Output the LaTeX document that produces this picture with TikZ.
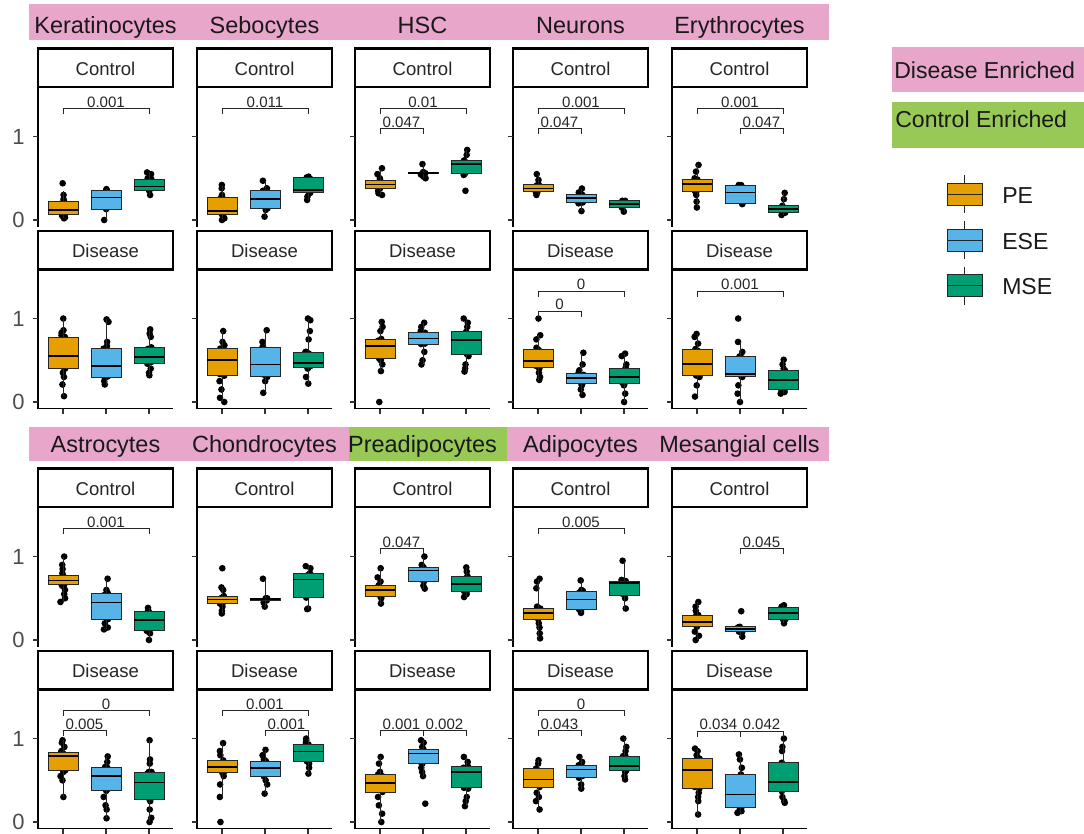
\documentclass[tikz,border=0pt]{standalone}
\usepackage{fontspec}
\setmainfont{Liberation Sans}
\definecolor{pe}{HTML}{E69F00}
\definecolor{ese}{HTML}{56B4E9}
\definecolor{mse}{HTML}{009E73}
\definecolor{pinkbg}{HTML}{E8A6CB}
\definecolor{greenbg}{HTML}{98C956}
\definecolor{ticklab}{HTML}{4D4D4D}
\newcount\ncnt
\tikzset{
  whisk/.style={line width=0.6pt,black!85},
  boxst/.style={line width=0.6pt,draw=black!85},
  medst/.style={line width=1.3pt,black},
  brst/.style={line width=0.6pt,black!85},
  pv/.style={anchor=base,inner sep=0pt,yshift=0.8pt,font=\fontsize{11.3pt}{12pt}\selectfont,text=black!85},
  stripbox/.style={line width=1.8pt,draw=black,fill=white},
  striptext/.style={anchor=base,inner sep=0pt,font=\fontsize{13.9pt}{15pt}\selectfont,text=black!85},
  titletext/.style={anchor=base,inner sep=0pt,font=\fontsize{17.6pt}{19pt}\selectfont,text=black!90},
  axisline/.style={line width=1.4pt,black},
  tickline/.style={line width=1.1pt,black!80},
  ylab/.style={anchor=east,inner sep=0pt,font=\fontsize{16.5pt}{18pt}\selectfont,text=ticklab},
  legtext/.style={anchor=base west,inner sep=0pt,font=\fontsize{17.3pt}{19pt}\selectfont,text=black!90},
}
% box: group, colour, lo, q1, med, q3, hi, points (points drawn first, box on top)
\newcommand\bx[8]{%
  \foreach \p in {#8,#4,#6,#4+0.02,#6-0.02}{\pgfmathsetmacro\jx{#1+0.06*rand}\fill (\jx,\p) circle[radius=2.5pt];}%
  \draw[whisk] (#1,#3) -- (#1,#4) (#1,#6) -- (#1,#7);
  \filldraw[boxst,fill=#2] (#1-0.35,#4) rectangle (#1+0.35,#6);
  \draw[medst] (#1-0.35,#5) -- (#1+0.35,#5);
}
% bracket: g1, g2, y, label
\newcommand\brk[4]{%
  \draw[brst] (#1,#3-0.07) -- (#1,#3) -- (#2,#3) -- (#2,#3-0.07);
  \global\advance\ncnt by 1
  \node[pv] (n\the\ncnt) at ({(#1+#2)/2},#3) {#4};%
}
% panel frame: L, strip top, y0, label, disease(1)/control(0)
\newcommand\frm[5]{%
  \draw[axisline] (#1,#2+38.5) -- (#1,#3+6.5);
  \draw[tickline] (#1-5,#3) -- (#1,#3) (#1-5,#3-83.5) -- (#1,#3-83.5);
  \ifnum#5=1
    \draw[axisline] (#1-0.7,#3+6.5) -- (#1+135,#3+6.5);
    \draw[tickline] (#1+25,#3+6.5) -- (#1+25,#3+11.5) (#1+68,#3+6.5) -- (#1+68,#3+11.5) (#1+111,#3+6.5) -- (#1+111,#3+11.5);
  \fi
  \draw[stripbox] (#1,#2) rectangle (#1+135,#2+38.5);
  \global\advance\ncnt by 1
  \node[striptext] (n\the\ncnt) at (#1+67.5,#2+26.5) {#4};%
}
\newenvironment{pdat}[2]{\begin{scope}[shift={(#1-18,#2)},x=32.25pt,y=62.6pt]}{\end{scope}}
\newcommand\ttl[3]{\global\advance\ncnt by 1 \node[titletext] (n\the\ncnt) at (#1+67.5,#2) {#3};}
\begin{document}
\begin{tikzpicture}[x=0.75pt,y=-0.75pt]
\pgfmathsetseed{7}
\useasboundingbox (0,0) rectangle (1084,833);
% title strips
\fill[pinkbg] (29,4) rectangle (829,40);
\fill[pinkbg] (29,427) rectangle (349,461);
\fill[greenbg] (349,427) rectangle (507,461);
\fill[pinkbg] (507,427) rectangle (829,461);
\ttl{38}{33.5}{Keratinocytes}
\ttl{197}{33.5}{Sebocytes}
\ttl{355}{33.5}{HSC}
\ttl{513}{33.5}{Neurons}
\ttl{672}{33.5}{Erythrocytes}
\ttl{38}{452}{Astrocytes}
\ttl{197}{452}{Chondrocytes}
\ttl{355}{452}{Preadipocytes}
\ttl{513}{452}{Adipocytes}
\ttl{672}{452}{Mesangial cells}
% y tick labels
\node[ylab] (yl1) at (25,220) {0};
\node[ylab] (yl2) at (25,136.5) {1};
\node[ylab] (yl3) at (25,402) {0};
\node[ylab] (yl4) at (25,318.5) {1};
\node[ylab] (yl5) at (25,640) {0};
\node[ylab] (yl6) at (25,556.5) {1};
\node[ylab] (yl7) at (25,822) {0};
\node[ylab] (yl8) at (25,738.5) {1};
% frames
\foreach \L in {38,197,355,513,672}{
  \frm{\L}{48.5}{220}{Control}{0}
  \frm{\L}{231}{402}{Disease}{1}
  \frm{\L}{468.5}{640}{Control}{0}
  \frm{\L}{651}{822}{Disease}{1}
}
% ===== top row, control =====
\begin{pdat}{38}{220}
\bx{1}{pe}{0.02}{0.068}{0.12}{0.22}{0.35}{0.44,0.3,0.25,0.2,0.15,0.12,0.1,0.08,0.05,0.03,0.02}
\bx{2}{ese}{0.0}{0.13}{0.27}{0.357}{0.37}{0.37,0.36,0.33,0.15,0.0}
\bx{3}{mse}{0.29}{0.35}{0.40}{0.49}{0.57}{0.57,0.55,0.5,0.45,0.38,0.3}
\brk{1}{3}{1.34}{0.001}
\end{pdat}
\begin{pdat}{197}{220}
\bx{1}{pe}{0}{0.07}{0.11}{0.27}{0.42}{0.42,0.38,0.3,0.25,0.15,0.1,0.05,0.02,0.0}
\bx{2}{ese}{0.04}{0.14}{0.25}{0.35}{0.47}{0.47,0.38,0.3,0.2,0.12,0.04}
\bx{3}{mse}{0.24}{0.325}{0.36}{0.51}{0.52}{0.52,0.5,0.33,0.28,0.24}
\brk{1}{3}{1.34}{0.011}
\end{pdat}
\begin{pdat}{355}{220}
\bx{1}{pe}{0.3}{0.377}{0.425}{0.476}{0.6}{0.62,0.55,0.5,0.45,0.42,0.4,0.38,0.35,0.32,0.3}
\bx{2}{ese}{0.5}{0.555}{0.56}{0.565}{0.67}{0.67,0.56,0.52,0.5}
\bx{3}{mse}{0.52}{0.563}{0.675}{0.714}{0.84}{0.84,0.78,0.7,0.6,0.54,0.35}
\brk{1}{3}{1.34}{0.01}
\brk{1}{2}{1.10}{0.047}
\end{pdat}
\begin{pdat}{513}{220}
\bx{1}{pe}{0.3}{0.337}{0.377}{0.43}{0.55}{0.55,0.48,0.42,0.4,0.38,0.36,0.33,0.3}
\bx{2}{ese}{0.107}{0.21}{0.265}{0.31}{0.377}{0.377,0.33,0.3,0.2,0.107}
\bx{3}{mse}{0.1}{0.147}{0.194}{0.23}{0.23}{0.23,0.2,0.15,0.1}
\brk{1}{3}{1.34}{0.001}
\brk{1}{2}{1.10}{0.047}
\end{pdat}
\begin{pdat}{672}{220}
\bx{1}{pe}{0.15}{0.337}{0.43}{0.485}{0.66}{0.66,0.58,0.5,0.45,0.4,0.35,0.3,0.22,0.15}
\bx{2}{ese}{0.2}{0.2}{0.33}{0.417}{0.42}{0.42,0.4,0.2,0.19}
\bx{3}{mse}{0.06}{0.087}{0.13}{0.17}{0.325}{0.325,0.25,0.15,0.1,0.06}
\brk{1}{3}{1.34}{0.001}
\brk{2}{3}{1.10}{0.047}
\end{pdat}
% ===== top row, disease =====
\begin{pdat}{38}{402}
\bx{1}{pe}{0.07}{0.40}{0.55}{0.78}{1.0}{1.0,0.86,0.83,0.8,0.6,0.45,0.35,0.3,0.21,0.07}
\bx{2}{ese}{0.2}{0.29}{0.43}{0.64}{0.99}{0.99,0.96,0.72,0.67,0.5,0.3,0.25,0.21}
\bx{3}{mse}{0.32}{0.46}{0.54}{0.655}{0.87}{0.87,0.82,0.78,0.6,0.5,0.4,0.35,0.32}
\end{pdat}
\begin{pdat}{197}{402}
\bx{1}{pe}{0}{0.315}{0.5}{0.64}{0.85}{0.85,0.72,0.68,0.55,0.4,0.25,0.15,0.05,0.0}
\bx{2}{ese}{0.11}{0.31}{0.45}{0.66}{0.86}{0.86,0.72,0.6,0.4,0.3,0.25,0.11}
\bx{3}{mse}{0.22}{0.41}{0.47}{0.6}{1.0}{1.0,0.98,0.85,0.75,0.6,0.5,0.4,0.3,0.22}
\end{pdat}
\begin{pdat}{355}{402}
\bx{1}{pe}{0.37}{0.518}{0.675}{0.755}{0.96}{0.96,0.9,0.85,0.7,0.6,0.5,0.45,0.37,0.0}
\bx{2}{ese}{0.45}{0.695}{0.76}{0.83}{0.95}{0.95,0.9,0.85,0.7,0.6,0.5,0.45}
\bx{3}{mse}{0.365}{0.575}{0.747}{0.84}{1.0}{1.0,0.95,0.9,0.7,0.55,0.45,0.4,0.365}
\end{pdat}
\begin{pdat}{513}{402}
\bx{1}{pe}{0.265}{0.413}{0.494}{0.627}{0.8}{1.0,0.8,0.75,0.65,0.5,0.4,0.35,0.3,0.265}
\bx{2}{ese}{0.085}{0.217}{0.285}{0.345}{0.59}{0.59,0.45,0.38,0.3,0.2,0.15,0.085}
\bx{3}{mse}{0.0}{0.217}{0.30}{0.406}{0.58}{0.58,0.55,0.45,0.35,0.2,0.1,0.0}
\brk{1}{3}{1.33}{0}
\brk{1}{2}{1.09}{0}
\end{pdat}
\begin{pdat}{672}{402}
\bx{1}{pe}{0.065}{0.317}{0.454}{0.635}{0.815}{0.815,0.78,0.7,0.6,0.45,0.3,0.2,0.065}
\bx{2}{ese}{0.0}{0.305}{0.333}{0.546}{0.72}{1.0,0.72,0.6,0.4,0.3,0.2,0.1,0.0}
\bx{3}{mse}{0.1}{0.153}{0.265}{0.373}{0.506}{0.506,0.45,0.4,0.3,0.15,0.12,0.1}
\brk{1}{3}{1.33}{0.001}
\end{pdat}
% ===== bottom row, control =====
\begin{pdat}{38}{640}
\bx{1}{pe}{0.456}{0.663}{0.714}{0.774}{1.0}{1.0,0.9,0.85,0.8,0.7,0.65,0.6,0.55,0.5,0.456}
\bx{2}{ese}{0.127}{0.25}{0.448}{0.563}{0.734}{0.734,0.6,0.2,0.15,0.127}
\bx{3}{mse}{0.0}{0.11}{0.238}{0.345}{0.385}{0.385,0.35,0.1,0.08,0.0}
\brk{1}{3}{1.34}{0.001}
\end{pdat}
\begin{pdat}{197}{640}
\bx{1}{pe}{0.318}{0.437}{0.484}{0.527}{0.63}{0.86,0.63,0.6,0.5,0.45,0.4,0.35,0.318}
\bx{2}{ese}{0.40}{0.475}{0.488}{0.5}{0.734}{0.734,0.5,0.45,0.40}
\bx{3}{mse}{0.377}{0.508}{0.726}{0.80}{0.885}{0.885,0.86,0.377,0.37}
\end{pdat}
\begin{pdat}{355}{640}
\bx{1}{pe}{0.437}{0.527}{0.595}{0.655}{0.86}{0.86,0.75,0.7,0.6,0.55,0.5,0.437}
\bx{2}{ese}{0.615}{0.706}{0.833}{0.87}{1.0}{1.0,0.9,0.85,0.65,0.615}
\bx{3}{mse}{0.515}{0.587}{0.675}{0.765}{0.87}{0.87,0.82,0.6,0.55,0.515}
\brk{1}{2}{1.10}{0.047}
\end{pdat}
\begin{pdat}{513}{640}
\bx{1}{pe}{0.02}{0.25}{0.325}{0.377}{0.734}{0.734,0.7,0.62,0.4,0.3,0.2,0.15,0.08,0.02}
\bx{2}{ese}{0.325}{0.37}{0.484}{0.587}{0.714}{0.714,0.6,0.35,0.325}
\bx{3}{mse}{0.377}{0.536}{0.682}{0.706}{0.95}{0.95,0.72,0.7,0.5,0.377}
\brk{1}{3}{1.34}{0.005}
\end{pdat}
\begin{pdat}{672}{640}
\bx{1}{pe}{0.0}{0.158}{0.218}{0.297}{0.456}{0.456,0.4,0.35,0.3,0.2,0.1,0.05,0.0}
\bx{2}{ese}{0.04}{0.1}{0.13}{0.158}{0.158}{0.345,0.15,0.1,0.04}
\bx{3}{mse}{0.2}{0.25}{0.325}{0.389}{0.417}{0.417,0.4,0.3,0.25,0.2}
\brk{2}{3}{1.10}{0.045}
\end{pdat}
% ===== bottom row, disease =====
\begin{pdat}{38}{822}
\bx{1}{pe}{0.3}{0.62}{0.79}{0.84}{0.98}{0.98,0.95,0.9,0.85,0.7,0.6,0.55,0.5,0.3}
\bx{2}{ese}{0.045}{0.374}{0.548}{0.66}{0.786}{0.786,0.72,0.65,0.4,0.3,0.2,0.15,0.045}
\bx{3}{mse}{0.0}{0.274}{0.474}{0.60}{0.98}{0.98,0.75,0.7,0.6,0.4,0.25,0.15,0.05,0.0}
\brk{1}{3}{1.34}{0}
\brk{1}{2}{1.10}{0.005}
\end{pdat}
\begin{pdat}{197}{822}
\bx{1}{pe}{0.3}{0.59}{0.66}{0.738}{0.945}{0.945,0.85,0.8,0.7,0.6,0.55,0.45,0.3,0.0}
\bx{2}{ese}{0.34}{0.548}{0.65}{0.73}{0.865}{0.865,0.8,0.75,0.55,0.5,0.45,0.34}
\bx{3}{mse}{0.58}{0.73}{0.845}{0.93}{1.0}{1.0,0.98,0.95,0.9,0.75,0.7,0.65,0.58}
\brk{1}{3}{1.34}{0.001}
\brk{2}{3}{1.10}{0.001}
\end{pdat}
\begin{pdat}{355}{822}
\bx{1}{pe}{0.0}{0.36}{0.47}{0.57}{0.78}{0.78,0.7,0.6,0.5,0.4,0.3,0.2,0.1,0.0}
\bx{2}{ese}{0.55}{0.70}{0.82}{0.87}{0.98}{0.98,0.95,0.9,0.65,0.6,0.55,0.22}
\bx{3}{mse}{0.19}{0.41}{0.60}{0.67}{0.78}{0.78,0.72,0.65,0.4,0.3,0.25,0.19}
\brk{1}{2}{1.10}{0.001}
\brk{2}{3}{1.10}{0.002}
\end{pdat}
\begin{pdat}{513}{822}
\bx{1}{pe}{0.15}{0.42}{0.51}{0.64}{0.74}{0.74,0.7,0.6,0.45,0.35,0.3,0.25,0.15}
\bx{2}{ese}{0.40}{0.53}{0.63}{0.68}{0.78}{0.78,0.72,0.55,0.45,0.40}
\bx{3}{mse}{0.51}{0.62}{0.67}{0.79}{1.0}{1.0,0.9,0.85,0.8,0.6,0.55,0.51}
\brk{1}{3}{1.34}{0}
\brk{1}{2}{1.10}{0.043}
\end{pdat}
\begin{pdat}{672}{822}
\bx{1}{pe}{0.09}{0.40}{0.62}{0.76}{0.88}{0.88,0.85,0.8,0.35,0.3,0.25,0.09}
\bx{2}{ese}{0.11}{0.18}{0.33}{0.57}{0.81}{0.81,0.75,0.65,0.15,0.13,0.11}
\bx{3}{mse}{0.23}{0.37}{0.48}{0.71}{1.0}{1.0,0.9,0.85,0.3,0.25,0.23}
\brk{1}{2}{1.09}{0.034}
\brk{2}{3}{1.09}{0.042}
\end{pdat}
% ===== legend =====
\fill[pinkbg] (892,47) rectangle (1084,92);
\node[legtext] (leg1) at (894,78) {Disease Enriched};
\fill[greenbg] (892,102) rectangle (1084,148);
\node[legtext] (leg2) at (895,127) {Control Enriched};
\foreach \c/\yc/\lab in {pe/194/PE,ese/240/ESE,mse/285.5/MSE}{
  \draw[whisk] (964.5,\yc-19) -- (964.5,\yc+19);
  \filldraw[boxst,fill=\c] (947,\yc-11) rectangle (982,\yc+11);
  \draw[whisk] (947,\yc) -- (982,\yc);
  \node[legtext] (k\lab) at (1002,\yc+9) {\lab};
}
\end{tikzpicture}
\end{document}
